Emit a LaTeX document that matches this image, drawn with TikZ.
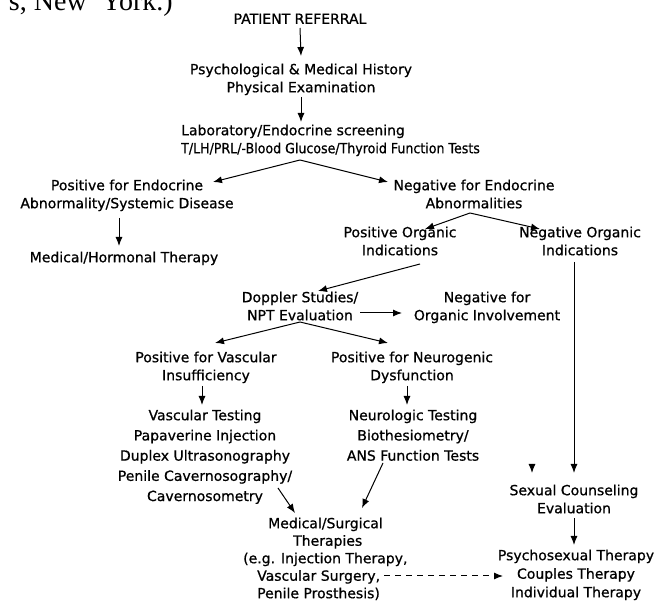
\documentclass[tikz,border=0pt]{standalone}
\usepackage{fontspec}
\setmainfont{DejaVu Sans}[FakeBold=0.8]
\newfontfamily\capfont{Liberation Serif}
\usetikzlibrary{arrows.meta}
\begin{document}
\begin{tikzpicture}[x=1pt,y=-1pt,
  lbl/.style={align=center, inner sep=0pt, anchor=north, font=\fontsize{14}{18}\selectfont},
  loose/.style={font=\fontsize{14}{20.2}\selectfont},
  arr/.style={line width=1pt, -{Latex[length=9pt,width=7pt]}},
  dasharr/.style={arr, dash pattern=on 6pt off 5pt}]
\useasboundingbox (0,0) rectangle (657,601);
\clip (0,0) rectangle (657,601);

% tail of the caption line above the chart
\node[anchor=base east, inner sep=0pt, font=\capfont\fontsize{28}{30}\selectfont] (captail) at (173,11) {s, New\hspace{8pt} York.)};

% --- chart boxes (plain text, no frames) ---
\node[lbl] (ref)   at (300,13.4)  {PATIENT REFERRAL};
\node[lbl] (hist)  at (301,63.4)  {Psychological \& Medical History\\Physical Examination};
\node[lbl, anchor=north west, align=left] (lab) at (181,124.4)
  {Laboratory/Endocrine screening\\\scalebox{0.9}[1]{T/LH/PRL/-Blood Glucose/Thyroid Function Tests}};
\node[lbl] (posE)  at (127,179.4) {Positive for Endocrine\\Abnormality/Systemic Disease};
\node[lbl] (negE)  at (474,179.4) {Negative for Endocrine\\Abnormalities};
\node[lbl] (medH)  at (124,251.4) {Medical/Hormonal Therapy};
\node[lbl] (posO)  at (400,226.4) {Positive Organic\\Indications};
\node[lbl] (negO)  at (580,226.4) {Negative Organic\\Indications};
\node[lbl] (dop)   at (300,291.4) {Doppler Studies/\\NPT Evaluation};
\node[lbl] (negI)  at (487,291.4) {Negative for\\Organic Involvement};
\node[lbl] (vasc)  at (206,351.4) {Positive for Vascular\\Insufficiency};
\node[lbl] (neuro) at (412,351.4) {Positive for Neurogenic\\Dysfunction};
\node[lbl, loose] (vtest) at (205,409.4)
  {Vascular Testing\\Papaverine Injection\\Duplex Ultrasonography\\Penile Cavernosography/\\Cavernosometry};
\node[lbl, loose] (ntest) at (413,409.4)
  {Neurologic Testing\\Biothesiometry/\\ANS Function Tests};
\node[lbl, anchor=north west, align=left, font=\fontsize{14}{17.5}\selectfont] (ms) at (243,517.4)
  {\hspace*{25pt}Medical/Surgical\\\hspace*{50pt}Therapies\\(e.g. Injection Therapy,\\\hspace*{14pt}Vascular Surgery,\\\hspace*{14pt}Penile Prosthesis)};
\node[lbl] (sexc)  at (574,484.4) {Sexual Counseling\\Evaluation};
\node[lbl, font=\fontsize{14}{18.5}\selectfont] (therR) at (576,549.4)
  {Psychosexual Therapy\\Couples Therapy\\Individual Therapy};

% --- branch points and loose arrow ends ---
\coordinate (labfork) at (300,160);
\coordinate (posEin)  at (213,182);
\coordinate (negEin)  at (388,182);
\coordinate (negEfork) at (470,213);
\coordinate (posOin)  at (425,229);
\coordinate (negOin)  at (540,229);
\coordinate (posOout) at (420,264);
\coordinate (dopin)   at (318,291);
\coordinate (dopout)  at (360,313);
\coordinate (negIin)  at (402,313);
\coordinate (dopfork) at (300,322);
\coordinate (vascin)  at (215,343);
\coordinate (neuroin) at (388,343);
\coordinate (vtout)   at (278,488);
\coordinate (msinL)   at (295,513);
\coordinate (ntout)   at (383,463);
\coordinate (msinR)   at (362,508);
\coordinate (stubtop) at (532,464);
\coordinate (stubtip) at (532,473);
\coordinate (msout)   at (384,576);
\coordinate (therin)  at (503,576);

% --- connectors ---
\draw[arr] (ref.south |- 0,28) -- (hist.north |- 0,56);
\draw[arr] (hist.south |- 0,97) -- (hist.south |- 0,122);
\draw[arr] (labfork) -- (posEin);
\draw[arr] (labfork) -- (negEin);
\draw[arr] (118,218 -| medH.north) ++(-5,0) -- ++(0,28);
\draw[arr] (negEfork) -- (posOin);
\draw[arr] (negEfork) -- (negOin);
\draw[arr] (posOout) -- (dopin);
\draw[arr] (dopout) -- (negIin);
\draw[arr] (dopfork) -- (vascin);
\draw[arr] (dopfork) -- (neuroin);
\draw[arr] (vasc.south |- 0,386) ++(-4,0) -- ++(0,19);
\draw[arr] (neuro.south |- 0,386) ++(-5,0) -- ++(0,19);
\draw[arr] (vtout) -- (msinL);
\draw[arr] (ntout) -- (msinR);
\draw[arr] (sexc.north |- 0,262) -- (sexc.north |- 0,473);
\draw[arr] (stubtop) -- (stubtip);
\draw[arr] (sexc.south |- 0,518) -- (sexc.south |- 0,545);
\draw[dasharr] (msout) -- (therin);
\end{tikzpicture}
\end{document}
